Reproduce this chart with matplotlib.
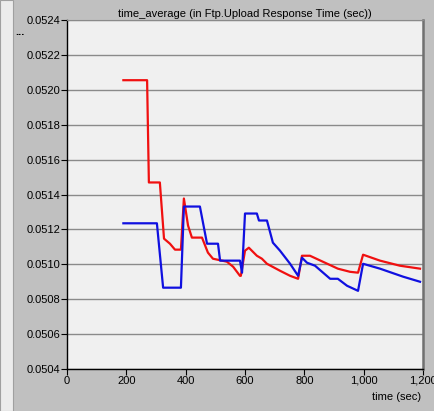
import matplotlib
matplotlib.use("Agg")
import matplotlib.pyplot as plt
from matplotlib.patches import Rectangle
from matplotlib.ticker import FuncFormatter, MultipleLocator

# red series (time in sec, response time in sec)
red_t = [190, 270, 276, 313, 327, 347, 364, 384, 394, 408, 421, 455, 475, 492,
         539, 560, 583, 586, 600, 613, 640, 657, 674, 718, 752, 779, 792, 819,
         913, 954, 981, 998, 1055, 1122, 1190]
red_v = [0.052055, 0.052055, 0.051469, 0.051469, 0.051147, 0.051118, 0.051084,
         0.051084, 0.051377, 0.051222, 0.051153, 0.051153, 0.051067, 0.051032,
         0.051015, 0.050986, 0.050934, 0.050934, 0.051078, 0.051095, 0.051049,
         0.051032, 0.051003, 0.050963, 0.050934, 0.050917, 0.051049, 0.051049,
         0.050975, 0.050957, 0.050952, 0.051055, 0.051021, 0.050992, 0.050975]

# blue series
blue_t = [190, 303, 324, 384, 394, 448, 472, 509, 516, 583, 590, 600, 640, 647,
          674, 694, 718, 752, 779, 792, 809, 836, 887, 913, 944, 981, 998,
          1055, 1133, 1190]
blue_v = [0.051235, 0.051235, 0.050866, 0.050866, 0.051331, 0.051331, 0.051118,
          0.051118, 0.051021, 0.051021, 0.050952, 0.051291, 0.051291, 0.051251,
          0.051251, 0.051124, 0.051078, 0.051003, 0.050934, 0.051038, 0.051009,
          0.050992, 0.050917, 0.050917, 0.050877, 0.050848, 0.051003, 0.050975,
          0.050929, 0.0509]

plt.rcParams['font.family'] = ['Liberation Sans', 'DejaVu Sans']

fig = plt.figure(figsize=(4.35, 4.11), dpi=100)
fig.patch.set_facecolor('#c0c0c0')
# light strip on the left edge
fig.patches.append(Rectangle((0, 0), 13 / 435, 1, transform=fig.transFigure,
                             facecolor='#ececec', edgecolor='#a0a0a0', lw=0.8))

ax = fig.add_axes([67 / 435, 1 - 369 / 411, 356 / 435, 349 / 411])
ax.set_facecolor('#f0f0f0')

ax.plot(red_t, red_v, color='#f01010', lw=1.6, zorder=3)
ax.plot(blue_t, blue_v, color='#1010e0', lw=1.6, zorder=3)

ax.set_xlim(0, 1200)
ax.set_ylim(0.0504, 0.0524)
ax.xaxis.set_major_locator(MultipleLocator(200))
ax.yaxis.set_major_locator(MultipleLocator(0.0002))
ax.xaxis.set_major_formatter(FuncFormatter(lambda x, p: f"{int(x):,}"))
ax.yaxis.set_major_formatter(FuncFormatter(lambda y, p: f"{y:.4f}"))
ax.grid(axis='y', color='#8a8a8a', lw=1.0)
ax.set_axisbelow(True)

ax.tick_params(axis='both', labelsize=8, color='black', length=4, width=0.8,
               direction='out', pad=1)
for s in ('left', 'bottom'):
    ax.spines[s].set_color('black')
    ax.spines[s].set_linewidth(1.0)
ax.spines['top'].set_color('#8a8a8a')
ax.spines['right'].set_color('#707070')
ax.spines['right'].set_linewidth(1.8)

ax.set_title("time_average (in Ftp.Upload Response Time (sec))", fontsize=8,
             pad=2)
fig.text(421 / 435, 1 - 397 / 411, "time (sec)", ha='right', va='center',
         fontsize=8)
fig.text(20 / 435, 1 - 32 / 411, "...", ha='center', va='center', fontsize=8,
         fontweight='bold')

fig.savefig("out.png", dpi=100, facecolor=fig.get_facecolor())
